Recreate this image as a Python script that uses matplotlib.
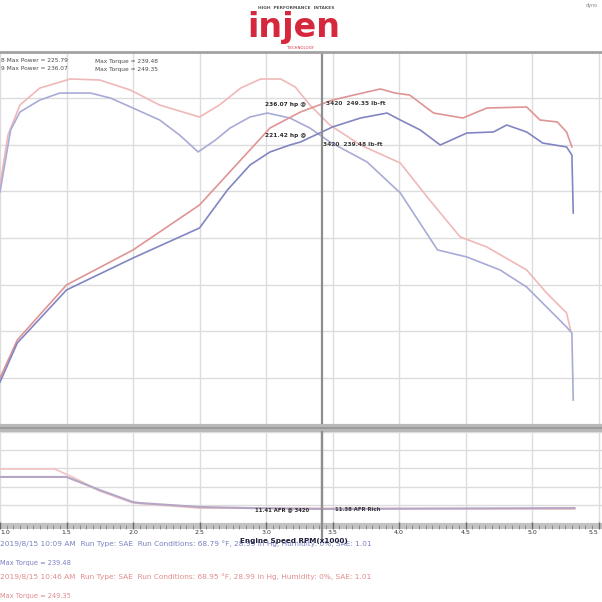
import numpy as np
import matplotlib
matplotlib.use("Agg")
import matplotlib.pyplot as plt
from matplotlib.lines import Line2D
from matplotlib.patches import Rectangle

# ---- data: engine speed in RPM x1000 ----
rpm_ticks = [1.0, 1.5, 2.0, 2.5, 3.0, 3.5, 4.0, 4.5, 5.0, 5.5]
tick_labels = ["1.0", "1.5", "2.0", "2.5", "3.0", "3.5", "4.0", "4.5", "5.0", "5.5"]
cursor_rpm = 3.42

# run 9 (red) power
hp_red_rpm = [1.00, 1.13, 1.50, 2.00, 2.50, 2.81, 3.03, 3.26, 3.50, 3.76, 3.86,
              3.97, 4.08, 4.26, 4.48, 4.66, 4.96, 5.06, 5.19, 5.26, 5.30]
hp_red = [39.6, 72.3, 119.6, 149.7, 188.4, 227.1, 254.6, 268.4, 278.7, 285.6, 288.2,
          284.7, 283.0, 267.5, 263.2, 271.8, 272.7, 261.5, 259.8, 251.2, 238.3]

# run 8 (blue) power
hp_blue_rpm = [1.00, 1.13, 1.50, 2.00, 2.50, 2.71, 2.88, 3.03, 3.18, 3.26, 3.50, 3.71,
               3.91, 4.01, 4.16, 4.31, 4.51, 4.71, 4.81, 4.96, 5.08, 5.26, 5.30, 5.31]
hp_blue = [36.1, 69.7, 115.3, 142.8, 168.6, 201.3, 222.8, 234.0, 240.0, 242.6, 255.5, 263.2,
           267.5, 261.5, 252.9, 240.0, 250.3, 251.2, 257.2, 251.2, 241.7, 238.3, 231.4, 181.5]

# run 9 (red) torque
tq_red_rpm = [1.00, 1.06, 1.15, 1.30, 1.53, 1.75, 1.98, 2.20, 2.50, 2.65, 2.81, 2.96, 3.11,
              3.22, 3.33, 3.48, 3.71, 4.01, 4.23, 4.46, 4.66, 4.96, 5.11, 5.26, 5.29]
tq_red = [205.6, 248.6, 274.4, 289.0, 296.8, 295.9, 287.3, 274.4, 264.1, 274.4, 289.0, 296.8,
          296.8, 289.9, 274.4, 257.2, 240.0, 224.5, 192.7, 160.9, 152.3, 132.5, 112.7, 95.5, 80.8]

# run 8 (blue) torque
tq_blue_rpm = [1.00, 1.08, 1.15, 1.30, 1.45, 1.68, 1.83, 2.00, 2.20, 2.35, 2.49, 2.62, 2.73,
               2.88, 3.01, 3.18, 3.33, 3.48, 3.76, 4.01, 4.29, 4.51, 4.76, 4.96, 5.26, 5.30, 5.31]
tq_blue = [199.6, 252.9, 268.4, 278.7, 284.7, 284.7, 280.4, 271.8, 261.5, 248.6, 234.0, 244.3,
           254.6, 264.1, 267.5, 263.2, 254.6, 242.6, 225.4, 198.7, 149.7, 143.7, 132.5, 117.8,
           83.4, 78.3, 20.6]

# air/fuel ratio, lower panel
afr_blue_rpm = [1.00, 1.50, 1.75, 2.00, 2.05, 2.50, 2.88, 3.42, 5.32]
afr_blue = [12.53, 12.53, 11.81, 11.15, 11.10, 10.88, 10.82, 10.77, 10.82]
afr_red_rpm = [1.00, 1.41, 1.56, 1.75, 2.00, 2.50, 5.32]
afr_red = [12.97, 12.97, 12.47, 11.76, 11.10, 10.82, 10.77]

W, H = 602, 602


def fx(px):
    return px / W


def fy(py):
    return 1 - py / H


def main():
    fig = plt.figure(figsize=(W / 100, H / 100), dpi=100)
    fig.patch.set_facecolor("white")
    xlim = (1.0, 1.0 + W / 133)

    red_hp, blue_hp = "#e09494", "#8186c2"
    red_tq, blue_tq = "#f0b8b8", "#a8abd6"

    # ---- main panel: power / torque ----
    ax = fig.add_axes([0, fy(424), 1, (424 - 52) / H])
    ax.set_xlim(*xlim)
    ax.set_ylim(0, 320)
    ax.set_xticks(rpm_ticks)
    ax.set_yticks(np.arange(0, 321, 40))
    ax.grid(color="#dcdcdc", lw=1)
    ax.tick_params(length=0, labelbottom=False, labelleft=False)
    for s in ax.spines.values():
        s.set_visible(False)
    ax.plot(tq_red_rpm, tq_red, color=red_tq, lw=1.2)
    ax.plot(tq_blue_rpm, tq_blue, color=blue_tq, lw=1.2)
    ax.plot(hp_red_rpm, hp_red, color=red_hp, lw=1.2)
    ax.plot(hp_blue_rpm, hp_blue, color=blue_hp, lw=1.2)
    ax.axvline(cursor_rpm, color="#8e8e8e", lw=1.6)

    # cursor read-outs
    ax.text(2.99, 275, "236.07 hp @", fontsize=4.2, color="#2b2b2b",
            fontweight="bold", va="center")
    ax.text(3.45, 276, "3420  249.35 lb-ft", fontsize=4.2, color="#3a3a3a",
            fontweight="bold", va="center")
    ax.text(2.99, 248, "221.42 hp @", fontsize=4.2, color="#2b2b2b",
            fontweight="bold", va="center")
    ax.text(3.43, 240, "3420  239.48 lb-ft", fontsize=4.2, color="#3a3a3a",
            fontweight="bold", va="center")

    # ---- lower panel: AFR ----
    ax2 = fig.add_axes([0, fy(523), 1, (523 - 432) / H])
    ax2.set_xlim(*xlim)
    ax2.set_ylim(10, 15)
    ax2.set_xticks(rpm_ticks)
    ax2.set_yticks(np.arange(10, 15.1, 1))
    ax2.grid(color="#dcdcdc", lw=1)
    ax2.tick_params(length=0, labelbottom=False, labelleft=False)
    for s in ax2.spines.values():
        s.set_visible(False)
    ax2.plot(afr_red_rpm, afr_red, color="#f0c6c6", lw=1.3)
    ax2.plot(afr_blue_rpm, afr_blue, color="#b4a6c4", lw=1.5)
    ax2.axvline(cursor_rpm, color="#8e8e8e", lw=1.6)
    ax2.text(2.92, 10.72, "11.41 AFR @ 3420", fontsize=3.8, color="#2b2b2b",
             fontweight="bold", va="center")
    ax2.text(3.52, 10.72, "11.38 AFR Rich", fontsize=3.8, color="#3a3a3a",
             fontweight="bold", va="center")

    # ---- tick strip ----
    ax3 = fig.add_axes([0, fy(529), 1, 6 / H])
    ax3.set_facecolor("#c2c2c2")
    ax3.set_xlim(*xlim)
    ax3.set_yticks([])
    ax3.set_xticks(rpm_ticks)
    ax3.set_xticklabels(tick_labels)
    ax3.set_xticks(np.arange(1.0, 5.55, 0.05), minor=True)
    ax3.tick_params(axis="x", which="major", direction="in", length=5, width=1,
                    color="#6a6a6a", labelsize=4.5, labelcolor="#333333", pad=1)
    ax3.tick_params(axis="x", which="minor", direction="in", length=3, width=0.6,
                    color="#808080")
    lbls = ax3.get_xticklabels()
    lbls[0].set_horizontalalignment("left")
    lbls[-1].set_horizontalalignment("right")
    for s in ax3.spines.values():
        s.set_visible(False)

    # frame pieces
    fig.add_artist(Line2D([0, 1], [fy(52), fy(52)], color="#a2a2a2", lw=2))
    fig.add_artist(Rectangle((0, fy(432)), 1, 8 / H, color="#b8b8b8", lw=0))
    fig.add_artist(Line2D([0, 1], [fy(428), fy(428)], color="#969696", lw=1.2))
    cx = fx(cursor_rpm - 1.0) * 133
    fig.add_artist(Line2D([cx, cx], [fy(432), fy(540)], color="#8e8e8e", lw=1.6))

    # ---- logo ----
    fig.text(fx(296), fy(8), "HIGH  PERFORMANCE  INTAKES", fontsize=3.2,
             color="#555555", ha="center", va="center", fontweight="bold")
    fig.text(fx(294), fy(28), "injen", fontsize=24, color="#d5283c",
             ha="center", va="center", fontweight="bold",
             bbox=dict(facecolor="white", edgecolor="none", pad=0.5))
    fig.text(fx(300), fy(48), "TECHNOLOGY", fontsize=2.8, color="#d5283c",
             ha="center", va="center")
    fig.text(fx(592), fy(6), "dyno", fontsize=3.5, color="#888888",
             ha="center", va="center")

    # ---- run legend in the plot ----
    fig.text(fx(1), fy(61), "8 Max Power = 225.79", fontsize=4.2,
             color="#4a4a4a", va="center")
    fig.text(fx(95), fy(61), "Max Torque = 239.48", fontsize=4.2,
             color="#4a4a4a", va="center")
    fig.text(fx(1), fy(69), "9 Max Power = 236.07", fontsize=4.2,
             color="#4a4a4a", va="center")
    fig.text(fx(95), fy(69), "Max Torque = 249.35", fontsize=4.2,
             color="#4a4a4a", va="center")

    # ---- run notes under the chart ----
    fig.text(0, fy(544), "2019/8/15 10:09 AM  Run Type: SAE  Run Conditions: 68.79 \u00b0F, "
             "28.99 in Hg, Humidity: 0%, SAE: 1.01", fontsize=5.3, color="#7b80c0",
             va="center")
    fig.text(fx(240), fy(541), "Engine Speed RPM(x1000)", fontsize=5.2,
             color="#1e1e3a", va="center", fontweight="bold")
    fig.text(0, fy(563), "Max Torque = 239.48", fontsize=4.8, color="#7b80c0",
             va="center")
    fig.text(0, fy(577), "2019/8/15 10:46 AM  Run Type: SAE  Run Conditions: 68.95 \u00b0F, "
             "28.99 in Hg, Humidity: 0%, SAE: 1.01", fontsize=5.3, color="#e08c8c",
             va="center")
    fig.text(0, fy(596), "Max Torque = 249.35", fontsize=4.8, color="#e08c8c",
             va="center")

    fig.savefig("out.png", dpi=100)


if __name__ == "__main__":
    main()
